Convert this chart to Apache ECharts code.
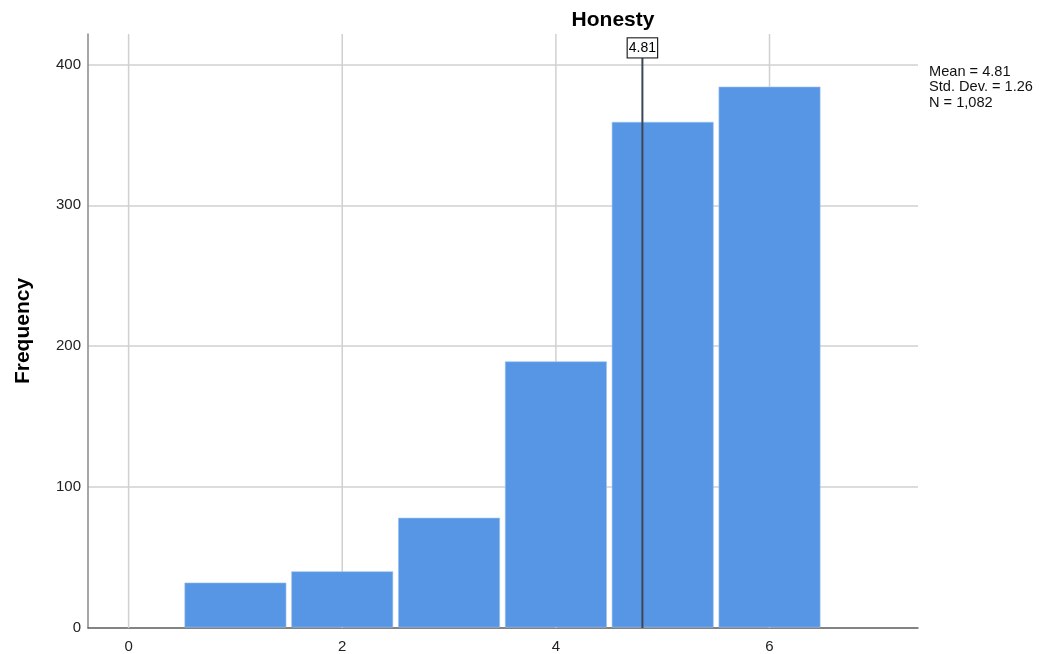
<!DOCTYPE html>
<html>
<head>
<meta charset="utf-8">
<script src="https://cdn.jsdelivr.net/npm/echarts@6/dist/echarts.min.js"></script>
<style>
  html, body { margin: 0; padding: 0; background: #fff; }
  #chart { width: 1044px; height: 654px; }
</style>
</head>
<body>
<div id="chart"></div>
<script>
// Histogram of Honesty scores (bin width 1)
const binCenters = [1, 2, 3, 4, 5, 6];
const frequencies = [32, 40, 78, 189, 359, 384];
const xTickValues = [0, 2, 4, 6];
const meanValue = 4.81;
const stdDev = 1.26;
const totalN = 1082;
const statsLines = ['Mean = 4.81', 'Std. Dev. = 1.26', 'N = 1,082'];

const FONT = '"Liberation Sans", Arial, sans-serif';
const binWidth = 1;
const yMax = 421.6;
const meanLineTop = 405;

const chart = echarts.init(document.getElementById('chart'));

const barData = binCenters.map((c, i) => [c, frequencies[i]]);

chart.setOption({
  animation: false,
  backgroundColor: '#ffffff',
  title: {
    text: 'Honesty',
    left: 608,
    top: 5,
    textAlign: 'center',
    textStyle: { fontFamily: FONT, fontSize: 21, fontWeight: 'bold', color: '#000' }
  },
  grid: { left: 88, right: 126, top: 34, bottom: 26 },
  xAxis: {
    type: 'value',
    min: -0.38,
    max: 7.39,
    axisLine: { show: true, onZero: false, lineStyle: { color: '#666', width: 1.5 } },
    axisTick: { show: false },
    splitLine: { show: false },
    axisLabel: {
      customValues: xTickValues,
      fontFamily: FONT, fontSize: 15, color: '#222', margin: 11
    }
  },
  yAxis: {
    type: 'value',
    min: 0,
    max: yMax,
    interval: 100,
    name: 'Frequency',
    nameLocation: 'middle',
    nameRotate: 90,
    nameGap: 54,
    nameTextStyle: { fontFamily: FONT, fontSize: 21, fontWeight: 'bold', color: '#000' },
    axisLine: { show: true, onZero: false, lineStyle: { color: '#888', width: 1.5 } },
    axisTick: { show: false },
    axisLabel: { fontFamily: FONT, fontSize: 15, color: '#222', margin: 7, showMaxLabel: false },
    splitLine: { show: true, showMaxLine: false, lineStyle: { color: '#d0d0d0', width: 1.5 } }
  },
  series: [
    {
      // vertical grid lines at the labelled x positions, drawn behind the bars
      type: 'custom',
      z: 1,
      silent: true,
      data: xTickValues.map(v => [v]),
      renderItem: function (params, api) {
        const v = api.value(0);
        const a = api.coord([v, 0]);
        const b = api.coord([v, yMax]);
        return {
          type: 'line',
          shape: { x1: a[0], y1: a[1], x2: b[0], y2: b[1] },
          style: { stroke: '#d0d0d0', lineWidth: 1.5 }
        };
      }
    },
    {
      // histogram bars
      type: 'custom',
      zlevel: 1,
      z: 3,
      data: barData,
      renderItem: function (params, api) {
        const c = api.value(0);
        const f = api.value(1);
        const p0 = api.coord([c - binWidth / 2, 0]);
        const p1 = api.coord([c + binWidth / 2, f]);
        const inset = 2.8;
        return {
          type: 'rect',
          shape: {
            x: p0[0] + inset,
            y: p1[1],
            width: p1[0] - p0[0] - inset * 2,
            height: p0[1] - p1[1] - 0.8
          },
          style: { fill: '#5696e4', stroke: '#9cc2f0', lineWidth: 0.6 }
        };
      }
    },
    {
      // mean reference line with its boxed value
      type: 'custom',
      zlevel: 2,
      silent: true,
      data: [[meanValue]],
      renderItem: function (params, api) {
        const m = api.value(0);
        const bottom = api.coord([m, 0]);
        const top = api.coord([m, meanLineTop]);
        return {
          type: 'group',
          children: [
            {
              type: 'line',
              shape: { x1: bottom[0], y1: bottom[1], x2: top[0], y2: top[1] },
              style: { stroke: '#3c4656', lineWidth: 2 }
            },
            {
              type: 'text',
              x: top[0],
              y: top[1],
              style: {
                text: String(m),
                font: '14px ' + FONT,
                fill: '#000',
                align: 'center',
                verticalAlign: 'bottom',
                backgroundColor: '#fff',
                borderColor: '#222',
                borderWidth: 1.2,
                padding: [3, 1, 2, 1]
              }
            }
          ]
        };
      }
    }
  ],
  graphic: [
    {
      type: 'text',
      left: 929,
      top: 64,
      style: {
        text: statsLines.join('\n'),
        font: '14.6px ' + FONT,
        lineHeight: 15.5,
        fill: '#111'
      }
    }
  ]
});
</script>
</body>
</html>
